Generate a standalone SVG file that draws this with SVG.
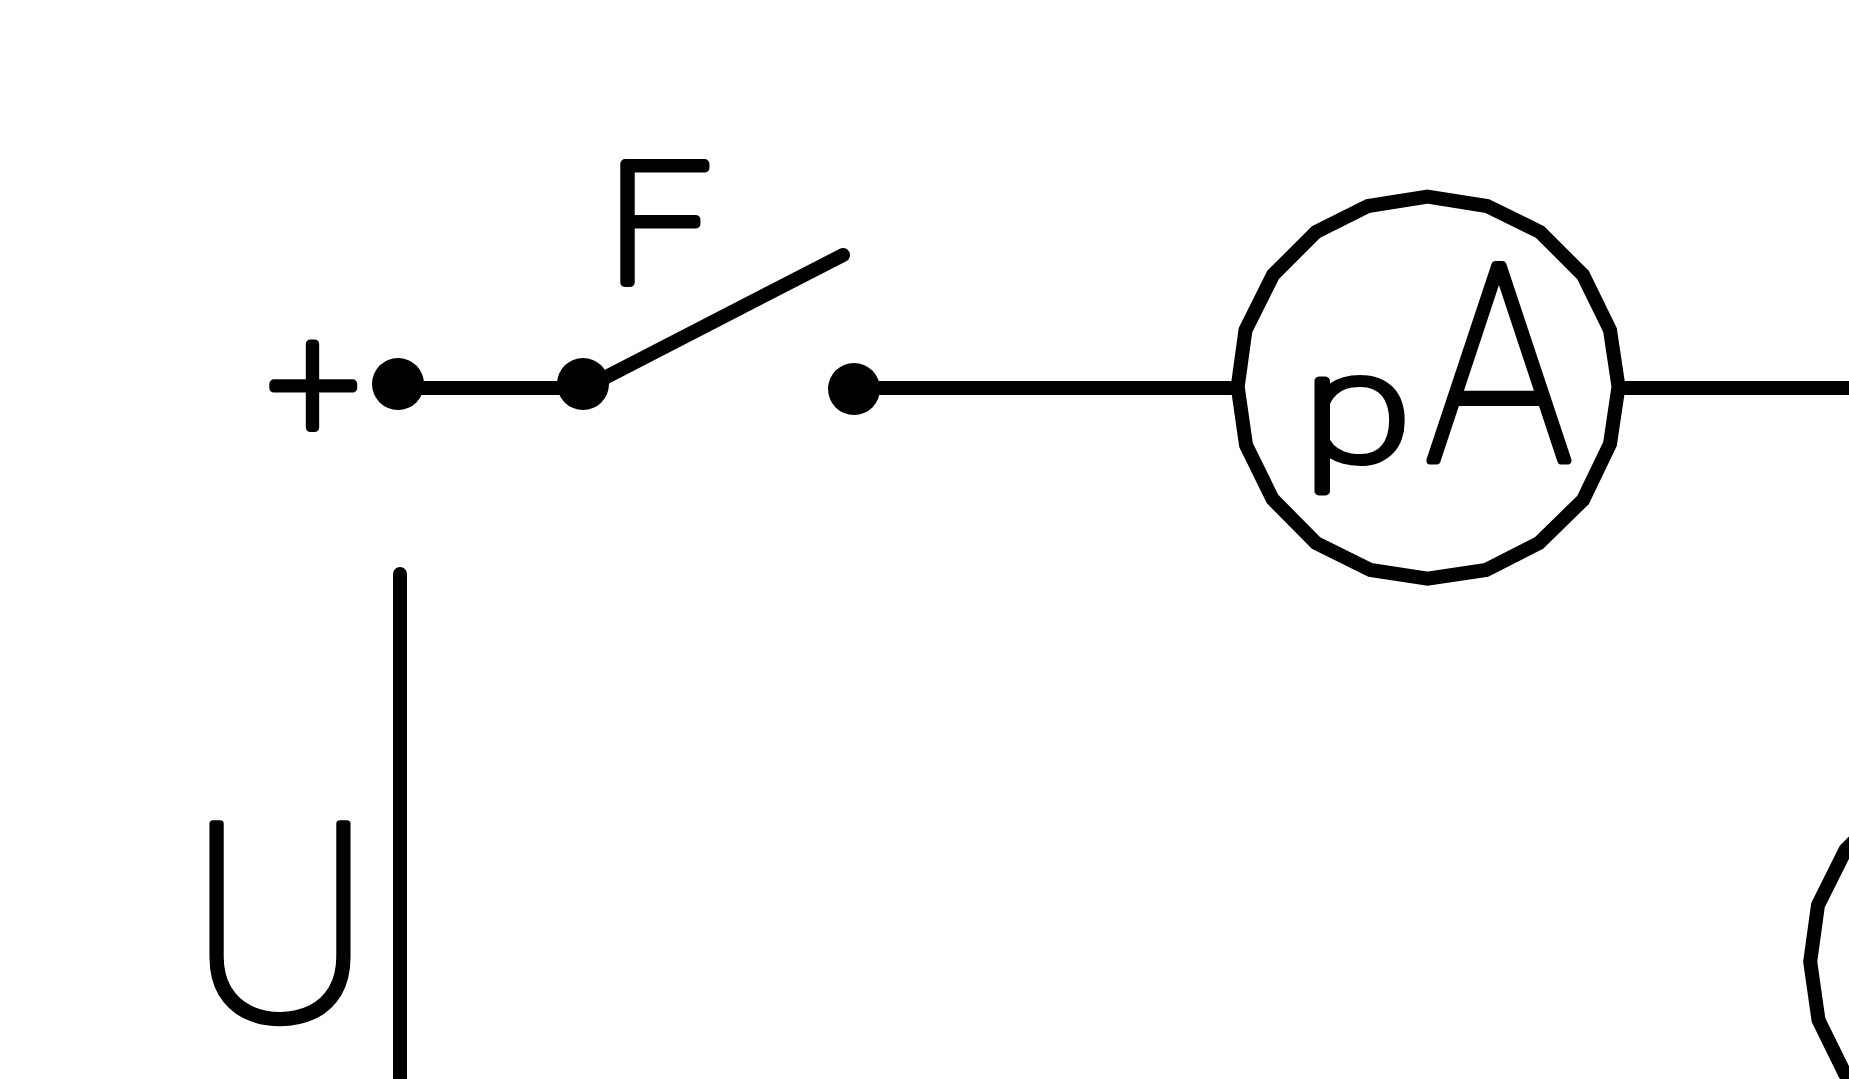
<svg xmlns="http://www.w3.org/2000/svg" width="1849" height="1079" viewBox="0 0 1849 1079">
<style>
.w{fill:none;stroke:#000;stroke-width:14;stroke-linecap:round;stroke-linejoin:miter}
.m{fill:#fff;stroke:#000;stroke-width:14;stroke-linejoin:miter}
.d{fill:#000}
.t{font-family:Roboto,"Liberation Sans",sans-serif;font-weight:100;fill:#000;stroke:#000;stroke-linejoin:round}
</style>
<defs>
<polygon id="ring" points="1427.6,196.7 1487,206 1540,232 1583,275 1610,330 1618.5,386.7 1610,444 1583,500 1539,543 1486,570 1427.6,578.7 1370.5,570 1316,543 1272.5,499 1246,445 1237.7,386.7 1245.5,330 1273,275 1316,232 1368,206"/>
</defs>
<rect width="1849" height="1079" fill="#fff"/>
<g id="connectors">
<line class="w" x1="398" y1="388" x2="583" y2="388"/>
<line class="w" x1="583" y1="389" x2="843" y2="255"/>
<line class="w" x1="854" y1="388" x2="1238" y2="388"/>
<line class="w" x1="1618" y1="388" x2="1849" y2="388"/>
<line class="w" x1="400" y1="574" x2="400" y2="1086"/>
</g>
<g id="terminal-plus"><circle class="d" cx="398" cy="384" r="26"/></g>
<g id="switch-in"><circle class="d" cx="583" cy="384" r="26"/></g>
<g id="switch-out"><circle class="d" cx="854" cy="389" r="26"/></g>
<g id="ammeter"><use href="#ring" class="m"/></g>
<g id="meter-lower"><use href="#ring" class="m" transform="translate(572.5 575)"/></g>
<g id="label-plus"><text class="t" stroke-width="9" font-size="162" text-anchor="middle" x="313.5" y="439">+</text></g>
<g id="label-f"><text class="t" stroke-width="9" font-size="167" transform="translate(607.5 282) scale(1.08 1)">F</text></g>
<g id="label-pa"><text class="t" stroke-width="8" y="460.5"><tspan font-size="153" x="1303.3" textLength="108" lengthAdjust="spacingAndGlyphs">p</tspan><tspan font-size="275" x="1426" textLength="146" lengthAdjust="spacingAndGlyphs">A</tspan></text></g>
<g id="label-u"><text class="t" stroke-width="7" font-size="276" text-anchor="middle" x="280" y="1020">U</text></g>
</svg>
